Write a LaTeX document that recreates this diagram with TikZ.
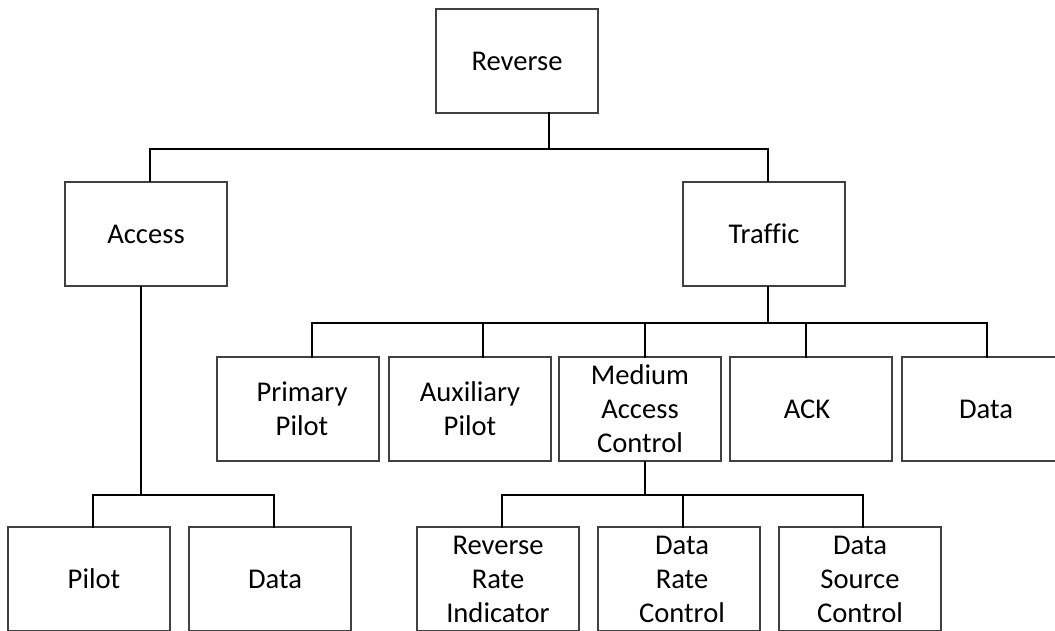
\documentclass[tikz,border=0pt]{standalone}
\usepackage{fontspec}
\setmainfont[Ligatures=NoCommon]{Carlito}
\begin{document}
\begin{tikzpicture}[x=1pt,y=-1pt,
  box/.style={draw=black!75, line width=1.2pt, fill=white, rectangle,
    minimum width=162pt, minimum height=104pt, inner sep=0pt,
    align=center, font=\fontsize{28.6}{34}\selectfont},
  link/.style={draw=black, line width=2.2pt, line cap=rect}]
\useasboundingbox (0,0) rectangle (1055,631);
\clip (0,0) rectangle (1055,631);

% top level
\node[box] (rev) at (517,61) {Reverse};
\node[box] (access) at (146,234) {Access};
\node[box] (traffic) at (764,234) {Traffic};

% traffic channels
\node[box] (pp) at (298,409) {\hspace*{8pt}Primary\\\hspace*{8pt}Pilot};
\node[box] (aux) at (470,409) {Auxiliary\\Pilot};
\node[box] (mac) at (640,409) {Medium\\Access\\Control};
\node[box] (ack) at (811,409) {\hspace*{-8pt}ACK};
\node[box] (tdata) at (983,409) {\hspace*{6pt}Data};

% access channels
\node[box] (pilot) at (89,579) {\hspace*{10pt}Pilot};
\node[box] (adata) at (270,579) {\hspace*{10pt}Data};

% MAC channels
\node[box] (rri) at (498,579) {Reverse\\Rate\\Indicator};
\node[box] (drc) at (679,579) {\hspace*{6pt}Data\\\hspace*{6pt}Rate\\\hspace*{6pt}Control};
\node[box] (dsc) at (860,579) {Data\\Source\\Control};

% bus lines
\coordinate (bus1) at (549,149);
\coordinate (bus2) at (768,323);
\coordinate (bus3) at (645,495);
\coordinate (bus4) at (141,495);

% Reverse -> Access / Traffic
\draw[link] ([xshift=32]rev.south) -- (bus1);
\draw[link] ([xshift=4]access.north) |- (bus1) -| ([xshift=4]traffic.north);

% Traffic -> its channels
\draw[link] ([xshift=4]traffic.south) -- (bus2);
\draw[link] ([xshift=14]pp.north) |- (bus2) -| ([xshift=4]tdata.north);
\draw[link] ([xshift=13]aux.north) -- ([xshift=13]aux.north |- bus2);
\draw[link] ([xshift=5]mac.north) -- ([xshift=5]mac.north |- bus2);
\draw[link] ([xshift=-5]ack.north) -- ([xshift=-5]ack.north |- bus2);

% MAC -> its channels
\draw[link] ([xshift=5]mac.south) -- (bus3);
\draw[link] ([xshift=4]rri.north) |- (bus3) -| ([xshift=3]dsc.north);
\draw[link] ([xshift=4]drc.north) -- ([xshift=4]drc.north |- bus3);

% Access -> its channels
\draw[link] ([xshift=-5]access.south) -- (bus4);
\draw[link] ([xshift=4]pilot.north) |- (bus4) -| ([xshift=4]adata.north);
\end{tikzpicture}
\end{document}
